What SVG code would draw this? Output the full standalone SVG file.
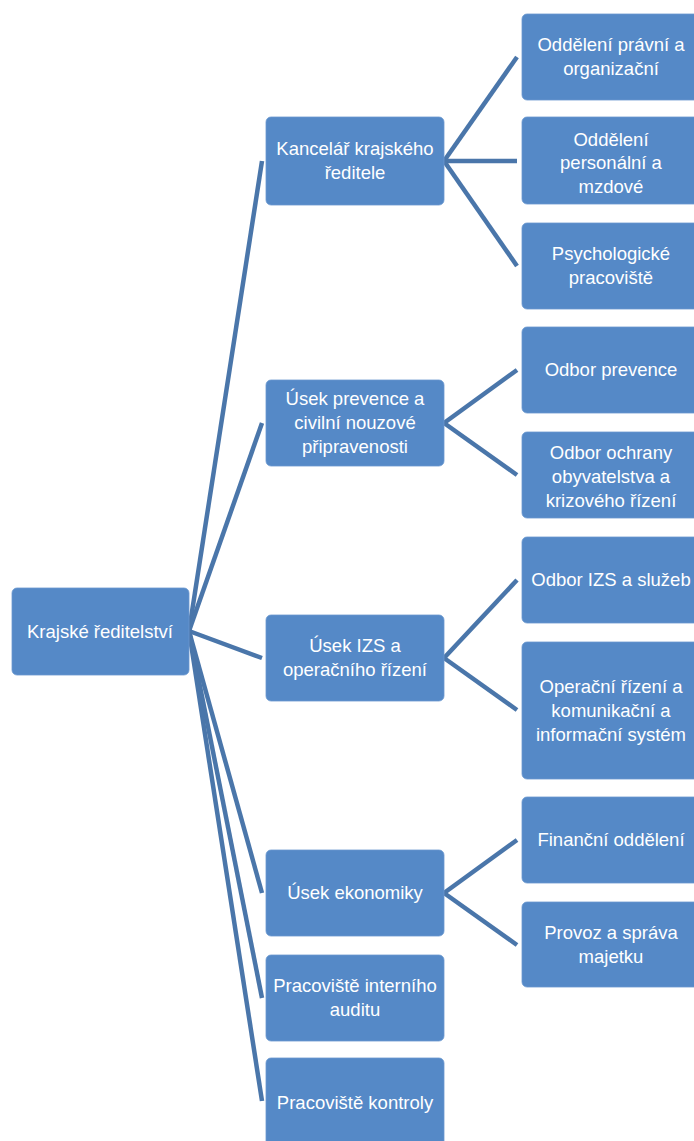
<svg xmlns="http://www.w3.org/2000/svg" width="694" height="1141" viewBox="0 0 694 1141">
<style>
.n rect{fill:#5589C7;stroke:#6B98CF;stroke-width:0.8}
.n text{fill:#fff;font-family:"Liberation Sans",Arial,sans-serif;font-size:18.5px;text-anchor:middle}
.c line{stroke:#4A76AA;stroke-width:4.5;stroke-linecap:butt}
</style>
<rect width="694" height="1141" fill="#fff"/>
<g id="connectors" class="c">
<line x1="189" y1="631" x2="262" y2="161"/>
<line x1="189" y1="631" x2="262" y2="423"/>
<line x1="189" y1="631" x2="262" y2="658"/>
<line x1="189" y1="631" x2="262" y2="893"/>
<line x1="189" y1="631" x2="262" y2="998"/>
<line x1="189" y1="631" x2="262" y2="1101"/>
<line x1="444" y1="161" x2="517" y2="57"/>
<line x1="444" y1="161" x2="517" y2="161"/>
<line x1="444" y1="161" x2="517" y2="266"/>
<line x1="444" y1="423" x2="517" y2="370"/>
<line x1="444" y1="423" x2="517" y2="475"/>
<line x1="444" y1="658" x2="517" y2="580"/>
<line x1="444" y1="658" x2="517" y2="710"/>
<line x1="444" y1="893" x2="517" y2="840"/>
<line x1="444" y1="893" x2="517" y2="945"/>
</g>
<g id="n-root" class="n"><rect x="12" y="588" width="177" height="87" rx="5"/><text x="100" y="638">Krajské ředitelství</text></g>
<g id="n-kancelar" class="n"><rect x="266" y="117" width="178" height="88" rx="5"/><text x="355" y="155">Kancelář krajského</text><text x="355" y="179">ředitele</text></g>
<g id="n-prevence" class="n"><rect x="266" y="380" width="178" height="86" rx="5"/><text x="355" y="405">Úsek prevence a</text><text x="355" y="429">civilní nouzové</text><text x="355" y="453">připravenosti</text></g>
<g id="n-izs" class="n"><rect x="266" y="615" width="178" height="86" rx="5"/><text x="355" y="652">Úsek IZS a</text><text x="355" y="676">operačního řízení</text></g>
<g id="n-ekonomiky" class="n"><rect x="266" y="850" width="178" height="86" rx="5"/><text x="355" y="899">Úsek ekonomiky</text></g>
<g id="n-audit" class="n"><rect x="266" y="955" width="178" height="86" rx="5"/><text x="355" y="992">Pracoviště interního</text><text x="355" y="1016">auditu</text></g>
<g id="n-kontroly" class="n"><rect x="266" y="1058" width="178" height="90" rx="5"/><text x="355" y="1109">Pracoviště kontroly</text></g>
<g id="n-pravni" class="n"><rect x="522" y="14" width="178" height="86" rx="5"/><text x="611" y="51">Oddělení právní a</text><text x="611" y="75">organizační</text></g>
<g id="n-personalni" class="n"><rect x="522" y="117" width="178" height="87" rx="5"/><text x="611" y="146">Oddělení</text><text x="611" y="169">personální a</text><text x="611" y="193">mzdové</text></g>
<g id="n-psycho" class="n"><rect x="522" y="223" width="178" height="86" rx="5"/><text x="611" y="260">Psychologické</text><text x="611" y="284">pracoviště</text></g>
<g id="n-odbor-prevence" class="n"><rect x="522" y="327" width="178" height="86" rx="5"/><text x="611" y="376">Odbor prevence</text></g>
<g id="n-ochrany" class="n"><rect x="522" y="432" width="178" height="86" rx="5"/><text x="611" y="459">Odbor ochrany</text><text x="611" y="483">obyvatelstva a</text><text x="611" y="507">krizového řízení</text></g>
<g id="n-izs-sluzeb" class="n"><rect x="522" y="537" width="178" height="86" rx="5"/><text x="611" y="586">Odbor IZS a služeb</text></g>
<g id="n-operacni" class="n"><rect x="522" y="642" width="178" height="137" rx="5"/><text x="611" y="693">Operační řízení a</text><text x="611" y="717">komunikační a</text><text x="611" y="741">informační systém</text></g>
<g id="n-financni" class="n"><rect x="522" y="797" width="178" height="86" rx="5"/><text x="611" y="846">Finanční oddělení</text></g>
<g id="n-provoz" class="n"><rect x="522" y="902" width="178" height="85" rx="5"/><text x="611" y="939">Provoz a správa</text><text x="611" y="963">majetku</text></g>
</svg>
